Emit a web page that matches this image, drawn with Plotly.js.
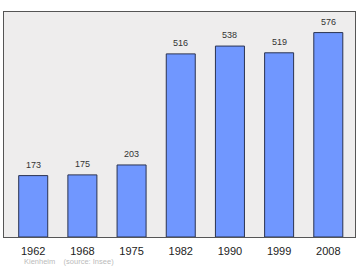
<!DOCTYPE html>
<html><head><meta charset="utf-8">
<script src="https://cdn.plot.ly/plotly-3.0.1.min.js"></script>
<style>html,body{margin:0;padding:0;background:#fff}#c{width:360px;height:270px}</style>
</head><body><div id="c"></div>
<script>
const years = ["1962","1968","1975","1982","1990","1999","2008"];
const population = [173,175,203,516,538,519,576];
const sourceText = "Kienheim    (source: Insee)";

const font = 'Liberation Sans, Arial, sans-serif';
const valueLabels = years.map((yr, i) => ({
  x: i, y: population[i], xref: 'x', yref: 'y',
  text: String(population[i]), showarrow: false,
  yanchor: 'bottom', yshift: 4,
  font: {family: font, size: 9, color: '#333'}
}));

Plotly.newPlot('c', [{
  type: 'bar',
  x: years,
  y: population,
  marker: {color: '#7097ff', line: {color: '#2a3350', width: 1}},
  hoverinfo: 'none'
}], {
  width: 360, height: 270,
  margin: {l: 4, r: 5, t: 12, b: 33},
  paper_bgcolor: '#ffffff',
  plot_bgcolor: '#eeeded',
  bargap: 0.41,
  showlegend: false,
  xaxis: {
    type: 'category', range: [-0.594, 6.543],
    showline: true, mirror: true, linecolor: '#555', linewidth: 1,
    ticks: '', showgrid: false, zeroline: false,
    tickfont: {family: font, size: 11, color: '#222'},
    ticklabelstandoff: 4
  },
  yaxis: {
    range: [0, 634], showline: true, mirror: true, linecolor: '#555', linewidth: 1,
    showticklabels: false, ticks: '', showgrid: false, zeroline: false
  },
  annotations: valueLabels.concat([{
    text: sourceText, xref: 'paper', yref: 'paper', x: 0.051, y: -0.111,
    xanchor: 'left', yanchor: 'middle', showarrow: false,
    font: {family: font, size: 7.5, color: '#bbbbbb'}
  }])
}, {staticPlot: true});
</script></body></html>
